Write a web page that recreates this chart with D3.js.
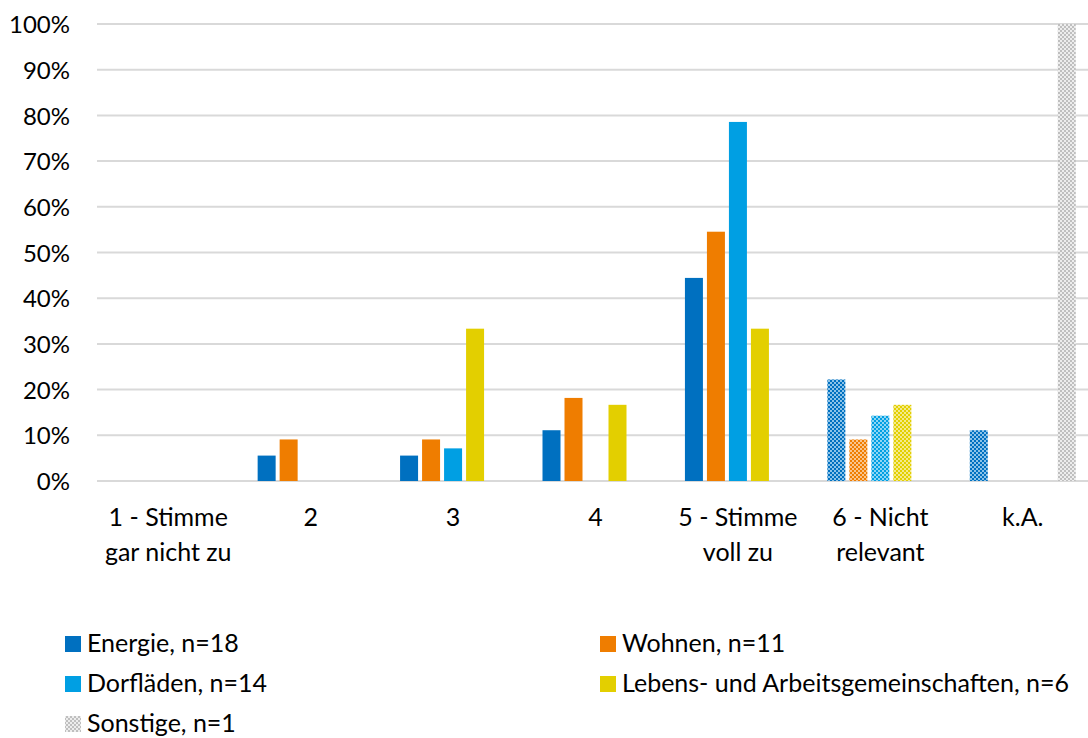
<!DOCTYPE html>
<html>
<head>
<meta charset="utf-8">
<script src="https://cdn.jsdelivr.net/npm/d3@7/dist/d3.min.js"></script>
<style>
  html, body { margin: 0; padding: 0; background: #fff; }
  svg { display: block; font-family: Lato, "Open Sans", sans-serif; }
</style>
</head>
<body>
<svg id="chart" width="1088" height="738"></svg>
<script>
// Answer categories (x axis), each possibly wrapped onto two lines
const categories = ["1 - Stimme gar nicht zu", "2", "3", "4", "5 - Stimme voll zu", "6 - Nicht relevant", "k.A."];
const categoryLines = [["1 - Stimme", "gar nicht zu"], ["2"], ["3"], ["4"], ["5 - Stimme", "voll zu"], ["6 - Nicht", "relevant"], ["k.A."]];

// Series names (legend)
const seriesNames = ["Energie, n=18", "Wohnen, n=11", "Dorfläden, n=14", "Lebens- und Arbeitsgemeinschaften, n=6", "Sonstige, n=1"];

// Shares per category, in percent
const energie  = [0, 5.56, 5.56, 11.11, 44.44, 22.22, 11.11];
const wohnen   = [0, 9.09, 9.09, 18.18, 54.55, 9.09, 0];
const dorflaeden = [0, 0, 7.14, 0, 78.57, 14.29, 0];
const lebens   = [0, 0, 33.33, 16.67, 33.33, 16.67, 0];
const sonstige = [0, 0, 0, 0, 0, 0, 100];

const yTicks = [0, 10, 20, 30, 40, 50, 60, 70, 80, 90, 100];

const seriesValues = [energie, wohnen, dorflaeden, lebens, sonstige];
const colors = ["#0070C0", "#EF7D00", "#009FE3", "#E3CF00", "#BFBFBF"];
const tints  = ["#8CC3E8", "#F9C58E", "#8ED6F4", "#F3EA8C", "#EDEDED"];

// Categories whose bars are drawn with a checker pattern
const patternCategories = ["6 - Nicht relevant", "k.A."];

const svg = d3.select("#chart");
const plotLeft = 97, plotRight = 1094, plotTop = 24, plotBottom = 481;
const fontSize = 25;

const x0 = d3.scaleBand().domain(categories).range([plotLeft, plotRight]).padding(0);
const groupW = 106;
const x1 = d3.scaleBand().domain(seriesNames)
  .range([(x0.bandwidth() - groupW) / 2, (x0.bandwidth() + groupW) / 2])
  .paddingInner(4 / 22);
const y = d3.scaleLinear().domain([0, 100]).range([plotBottom, plotTop]);

// Checker patterns
const defs = svg.append("defs");
seriesNames.forEach((s, i) => {
  const p = defs.append("pattern")
    .attr("id", "chk" + i)
    .attr("patternUnits", "userSpaceOnUse")
    .attr("width", 4).attr("height", 4);
  p.append("rect").attr("width", 4).attr("height", 4).attr("fill", colors[i]);
  p.append("rect").attr("x", 0).attr("y", 0).attr("width", 2).attr("height", 2).attr("fill", tints[i]);
  p.append("rect").attr("x", 2).attr("y", 2).attr("width", 2).attr("height", 2).attr("fill", tints[i]);
});

// Gridlines
svg.append("g")
  .selectAll("line")
  .data(yTicks)
  .join("line")
  .attr("x1", plotLeft).attr("x2", 1088)
  .attr("y1", d => y(d)).attr("y2", d => y(d))
  .attr("stroke", "#D9D9D9").attr("stroke-width", 2);

// Y axis labels
const yAxis = d3.axisLeft(y).tickValues(yTicks).tickFormat(d => d + "%").tickSize(0).tickPadding(0);
const yg = svg.append("g").attr("transform", `translate(70,0)`).call(yAxis);
yg.select(".domain").remove();
yg.selectAll("text")
  .attr("font-size", 24).attr("fill", "#000")
  .attr("font-family", "Lato, 'Open Sans', sans-serif")
  .attr("dy", "0.36em");

// Bars
const rows = [];
seriesValues.forEach((vals, si) => {
  vals.forEach((v, ci) => {
    if (v > 0) rows.push({ s: si, c: categories[ci], v });
  });
});
svg.append("g")
  .selectAll("rect")
  .data(rows)
  .join("rect")
  .attr("x", d => x0(d.c) + x1(seriesNames[d.s]))
  .attr("width", x1.bandwidth())
  .attr("y", d => y(d.v))
  .attr("height", d => y(0) - y(d.v))
  .attr("fill", d => patternCategories.includes(d.c) ? `url(#chk${d.s})` : colors[d.s]);

// Category labels
const xg = svg.append("g");
categories.forEach((c, i) => {
  const t = xg.append("text")
    .attr("x", x0(c) + x0.bandwidth() / 2)
    .attr("y", 526)
    .attr("text-anchor", "middle")
    .attr("font-size", fontSize)
    .attr("fill", "#000");
  categoryLines[i].forEach((ln, j) => {
    t.append("tspan")
      .attr("x", x0(c) + x0.bandwidth() / 2)
      .attr("dy", j === 0 ? 0 : 35)
      .text(ln);
  });
});

// Legend
const legendPos = [[65, 636], [600, 636], [65, 676], [600, 676], [65, 716]];
const lg = svg.append("g");
seriesNames.forEach((s, i) => {
  const [lx, ly] = legendPos[i];
  lg.append("rect")
    .attr("x", lx).attr("y", ly)
    .attr("width", 16).attr("height", 16)
    .attr("fill", i === 4 ? "url(#chk4)" : colors[i]);
  lg.append("text")
    .attr("x", lx + 22).attr("y", ly + 16)
    .attr("font-size", fontSize)
    .attr("fill", "#000")
    .text(s);
});
</script>
</body>
</html>
